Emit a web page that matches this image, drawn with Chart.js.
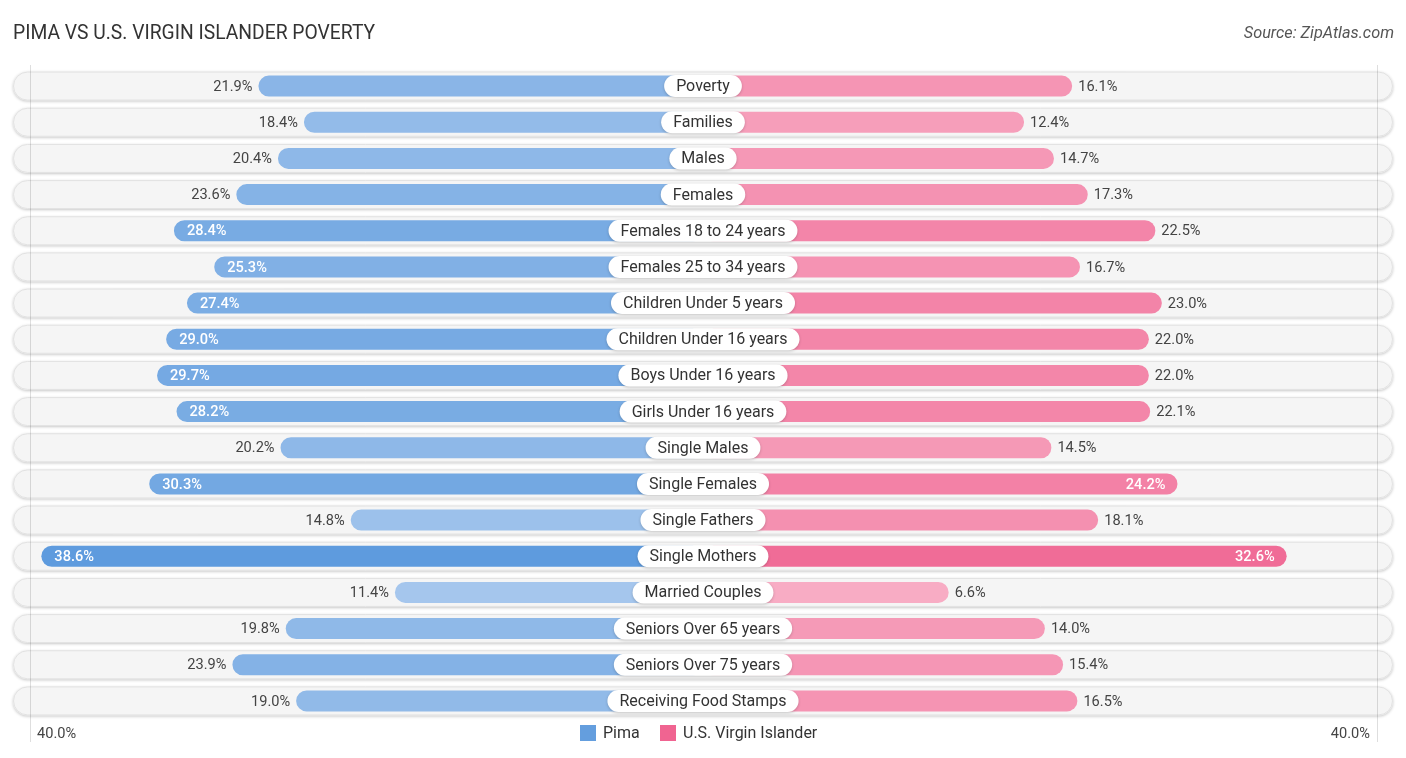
<!DOCTYPE html>
<html><head><meta charset="utf-8">
<script src="https://cdn.jsdelivr.net/npm/chart.js@4/dist/chart.umd.min.js"></script>
<style>
html,body{margin:0;padding:0;background:#fff;}
#wrap{position:relative;width:1406px;height:758px;overflow:hidden;}
#title{position:absolute;left:13px;top:21px;font:400 19.3px Roboto,sans-serif;color:#333;}
#source{position:absolute;right:12px;top:23px;font:italic 16.3px Roboto,sans-serif;color:#555;}
canvas{position:absolute;left:0;top:0;}
</style></head><body>
<div id="wrap">
<canvas id="c" width="1406" height="758"></canvas>
<div id="title">PIMA VS U.S. VIRGIN ISLANDER POVERTY</div>
<div id="source">Source: ZipAtlas.com</div>
</div>
<script>
const categories = ["Poverty","Families","Males","Females","Females 18 to 24 years","Females 25 to 34 years","Children Under 5 years","Children Under 16 years","Boys Under 16 years","Girls Under 16 years","Single Males","Single Females","Single Fathers","Single Mothers","Married Couples","Seniors Over 65 years","Seniors Over 75 years","Receiving Food Stamps"];
const pima = [21.9,18.4,20.4,23.6,28.4,25.3,27.4,29.0,29.7,28.2,20.2,30.3,14.8,38.6,11.4,19.8,23.9,19.0];
const usvi = [16.1,12.4,14.7,17.3,22.5,16.7,23.0,22.0,22.0,22.1,14.5,24.2,18.1,32.6,6.6,14.0,15.4,16.5];
const seriesNames = ["Pima","U.S. Virgin Islander"];
const axisLabel = "40.0%";

const OFF = 12.3;      // gap (in % units) reserved behind the centre label
const HALF = 53.08;    // half-width of the x scale in % units
const FONT = "Roboto, 'Noto Sans', sans-serif";

function mix(a,b,t){return 'rgb('+a.map((x,i)=>Math.round(x+(b[i]-x)*t)).join(',')+')';}
function shade(v, light, dark){let t=(v-5)/35; t=Math.max(0,Math.min(1,t)); return mix(light,dark,t);}
const pLight=[182,208,240], pDark=[90,153,221];
const uLight=[248,176,199], uDark=[238,90,138];

function rr(ctx,x,y,w,h,r){ctx.beginPath();ctx.moveTo(x+r,y);ctx.lineTo(x+w-r,y);ctx.arc(x+w-r,y+r,r,-Math.PI/2,Math.PI/2);ctx.lineTo(x+r,y+h);ctx.arc(x+r,y+r,r,Math.PI/2,Math.PI*1.5);ctx.closePath();}

const deco = {
  id:'deco',
  beforeDatasetsDraw(chart){
    const {ctx, chartArea:a, scales:{x,y}} = chart;
    ctx.save();
    categories.forEach((c,i)=>{
      const cy = y.getPixelForValue(i);
      const h = 29;
      ctx.save();
      ctx.shadowColor='rgba(0,0,0,0.22)'; ctx.shadowBlur=3; ctx.shadowOffsetY=1;
      rr(ctx,a.left,cy-h/2,a.right-a.left,h,h/2);
      ctx.fillStyle='#f5f5f5'; ctx.fill();
      ctx.restore();
      rr(ctx,a.left+0.5,cy-h/2+0.5,a.right-a.left-1,h-1,(h-1)/2);
      ctx.strokeStyle='#e2e2e2'; ctx.lineWidth=1; ctx.stroke();
    });
    ctx.strokeStyle='rgba(0,0,0,0.13)'; ctx.lineWidth=1;
    [30.5,1377.5].forEach(px=>{ctx.beginPath();ctx.moveTo(px,65);ctx.lineTo(px,742);ctx.stroke();});
    ctx.restore();
  },
  afterDatasetsDraw(chart){
    const {ctx, scales:{x,y}} = chart;
    const cx = x.getPixelForValue(0);
    ctx.save();
    ctx.textBaseline='middle';
    categories.forEach((c,i)=>{
      const cy = y.getPixelForValue(i);
      // centre label
      ctx.font='16px '+FONT;
      const tw = ctx.measureText(c).width;
      const w = tw+24, h=22;
      ctx.save();
      ctx.shadowColor='rgba(0,0,0,0.2)'; ctx.shadowBlur=3; ctx.shadowOffsetY=1;
      rr(ctx,cx-w/2,cy-h/2,w,h,h/2); ctx.fillStyle='#fff'; ctx.fill();
      ctx.restore();
      ctx.fillStyle='#333'; ctx.textAlign='center';
      ctx.fillText(c,cx,cy+1);
      // values
      const lv=pima[i], rv=usvi[i];
      const lx = x.getPixelForValue(-(OFF+lv));
      const rx = x.getPixelForValue(OFF+rv);
      const lt = lv.toFixed(1)+'%', rt = rv.toFixed(1)+'%';
      if(lv>24){ctx.fillStyle='#fff';ctx.textAlign='left';ctx.font='500 14.6px '+FONT;ctx.fillText(lt,lx+13,cy+1);}
      else{ctx.fillStyle='#444';ctx.textAlign='right';ctx.font='14.6px '+FONT;ctx.fillText(lt,lx-6,cy+1);}
      if(rv>24){ctx.fillStyle='#fff';ctx.textAlign='right';ctx.font='500 14.6px '+FONT;ctx.fillText(rt,rx-12,cy+1);}
      else{ctx.fillStyle='#444';ctx.textAlign='left';ctx.font='14.6px '+FONT;ctx.fillText(rt,rx+6,cy+1);}
    });
    // axis end labels
    ctx.font='14.6px '+FONT; ctx.fillStyle='#444';
    ctx.textAlign='left'; ctx.fillText(axisLabel,37,734);
    ctx.textAlign='right'; ctx.fillText(axisLabel,1370,734);
    // legend
    ctx.font='16px '+FONT;
    const items=[[seriesNames[0],'rgb(100,158,222)',580],[seriesNames[1],'rgb(240,100,145)',660]];
    items.forEach(([t,col,lx])=>{
      ctx.fillStyle=col; ctx.fillRect(lx,725,16,16);
      ctx.fillStyle='#333'; ctx.textAlign='left'; ctx.fillText(t,lx+23,734);
    });
    ctx.restore();
  }
};

new Chart(document.getElementById('c'),{
  type:'bar',
  data:{
    labels:categories,
    datasets:[
      {label:seriesNames[0],data:pima.map(v=>[-(OFF+v),0]),backgroundColor:pima.map(v=>shade(v,pLight,pDark))},
      {label:seriesNames[1],data:usvi.map(v=>[0,OFF+v]),backgroundColor:usvi.map(v=>shade(v,uLight,uDark))}
    ]
  },
  options:{
    indexAxis:'y',
    responsive:false,
    animation:false,
    layout:{padding:{left:13,right:13,top:68,bottom:39}},
    datasets:{bar:{grouped:false,barPercentage:0.58,categoryPercentage:1,borderRadius:11,borderSkipped:false}},
    scales:{
      x:{type:'linear',min:-HALF,max:HALF,display:false},
      y:{type:'category',display:false,offset:true}
    },
    plugins:{legend:{display:false},tooltip:{enabled:false},title:{display:false}}
  },
  plugins:[deco]
});
</script>
</body></html>
